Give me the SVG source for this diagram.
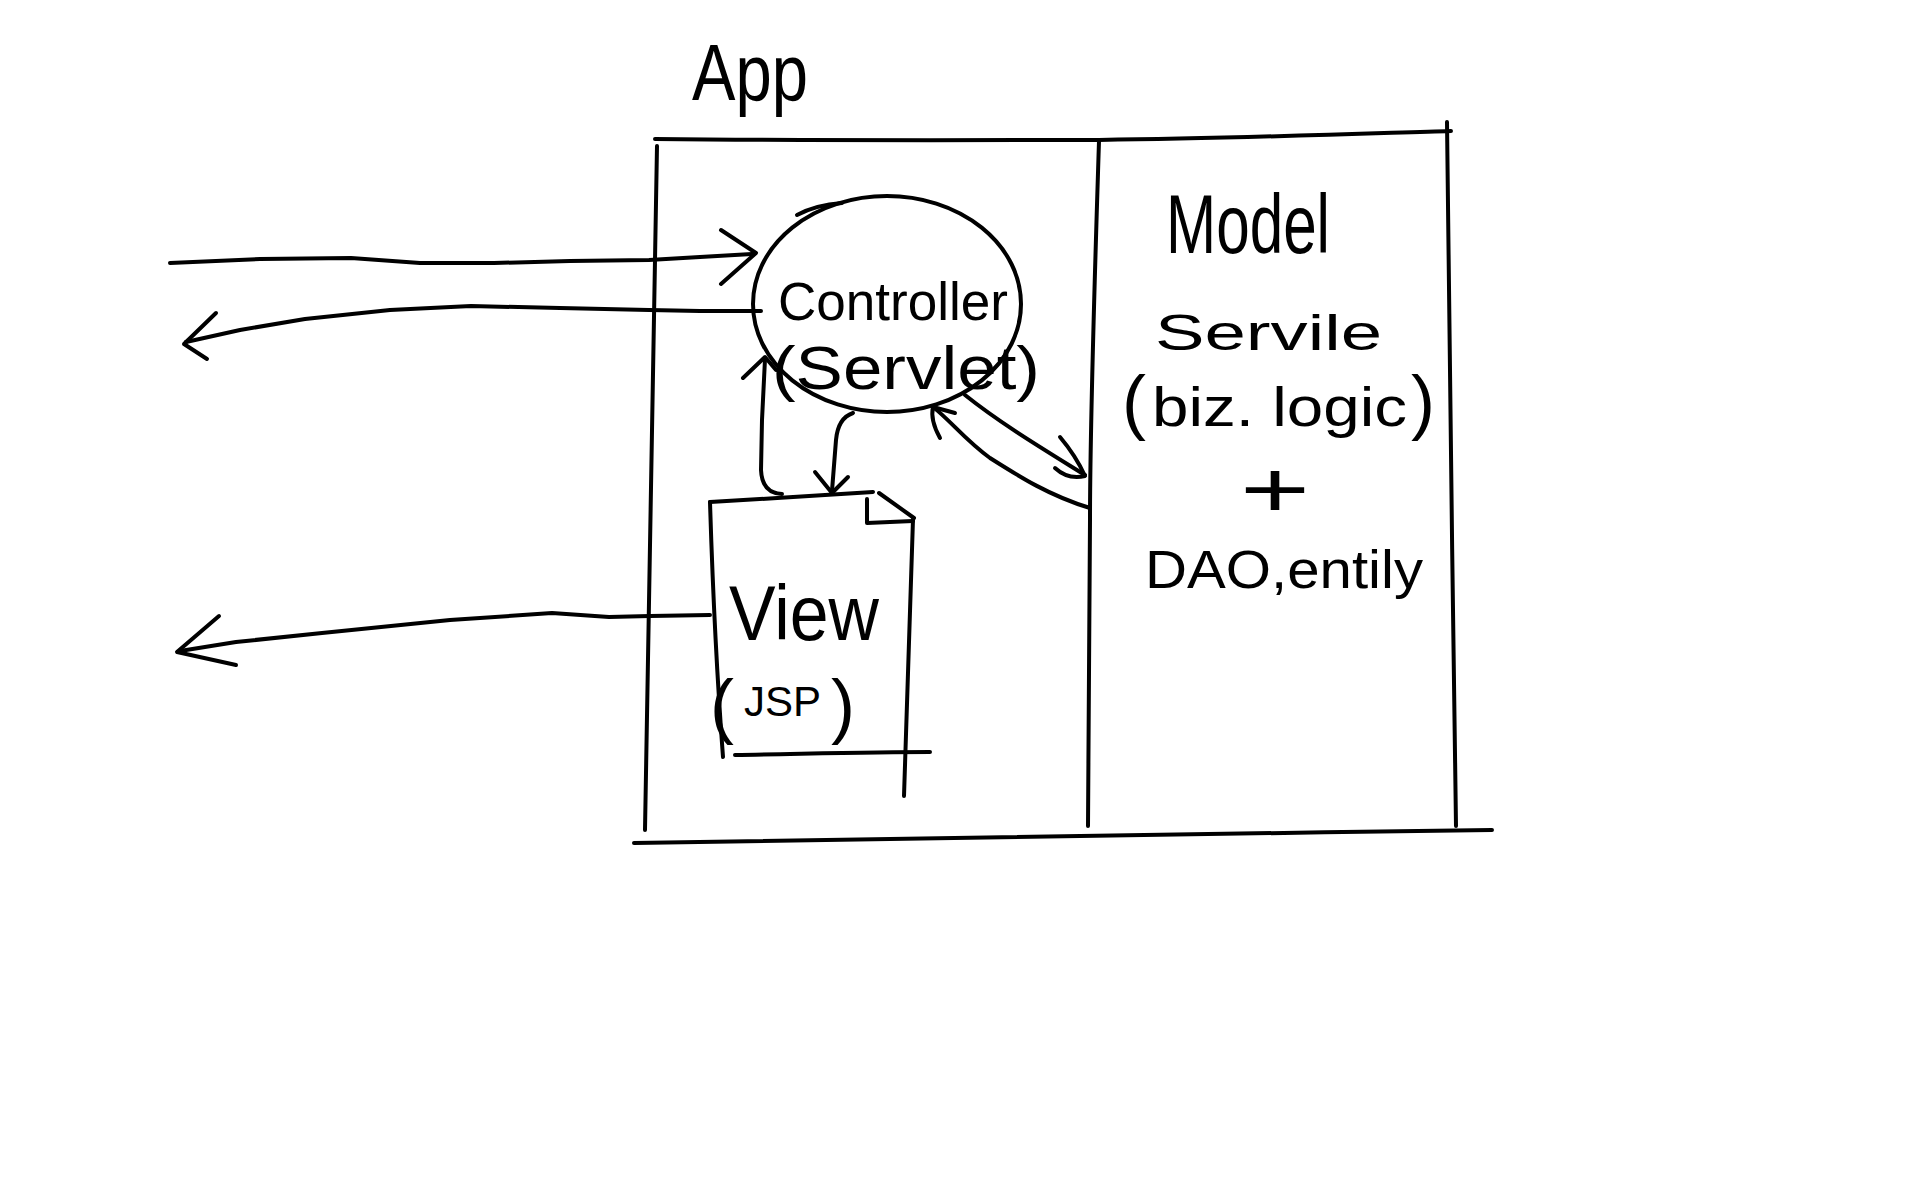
<svg xmlns="http://www.w3.org/2000/svg" width="1920" height="1200" viewBox="0 0 1920 1200">
<style>
.ln{fill:none;stroke:#000;stroke-width:4;stroke-linecap:round;stroke-linejoin:round}
.t{font-family:"Liberation Sans","DejaVu Sans",sans-serif;fill:#000}
</style>
<rect x="0" y="0" width="1920" height="1200" fill="#fff"/>

<g id="app">
  <text class="t" x="692" y="100" font-size="80" textLength="116" lengthAdjust="spacingAndGlyphs">App</text>
  <path class="ln" d="M655,139 C850,141 1000,140 1099,140 C1250,138 1380,133 1451,131"/>
  <path class="ln" d="M1447,122 C1450,300 1452,600 1456,826"/>
  <path class="ln" d="M657,146 C654,400 648,650 645,830"/>
  <path class="ln" d="M634,843 C900,838 1200,834 1492,830"/>
</g>

<g id="model">
  <path class="ln" d="M1099,141 C1094,300 1090,420 1090,520 C1089,650 1088,760 1088,826"/>
  <text class="t" x="1166" y="253" font-size="84" textLength="164" lengthAdjust="spacingAndGlyphs">Model</text>
  <text class="t" x="1155" y="350" font-size="50" textLength="227" lengthAdjust="spacingAndGlyphs">Servile</text>
  <text class="t" x="1122" y="426" font-size="56"><tspan font-size="72">(</tspan><tspan dx="6" textLength="255" lengthAdjust="spacingAndGlyphs">biz. logic</tspan><tspan font-size="72" dx="4">)</tspan></text>
  <text class="t" transform="translate(1275,517) scale(1.5,1)" x="0" y="0" font-size="80" text-anchor="middle">+</text>
  <text class="t" x="1145" y="588" font-size="54" textLength="278" lengthAdjust="spacingAndGlyphs">DAO,entily</text>
</g>

<g id="controller">
  <ellipse class="ln" cx="887" cy="304" rx="134" ry="108"/>
  <path class="ln" d="M797,215 C810,208 828,204 842,203"/>
  <text class="t" x="778" y="320" font-size="54" textLength="230" lengthAdjust="spacingAndGlyphs">Controller</text>
  <text class="t" x="772" y="389" font-size="62" textLength="268" lengthAdjust="spacingAndGlyphs">(Servlet)</text>
</g>

<g id="view">
  <path class="ln" d="M710,502 C760,499 830,495 873,492"/>
  <path class="ln" d="M879,493 L914,518"/>
  <path class="ln" d="M867,499 L867,523 L913,521"/>
  <path class="ln" d="M913,519 C910,620 906,720 904,796"/>
  <path class="ln" d="M710,502 C713,600 718,690 723,757"/>
  <path class="ln" d="M735,755 C800,754 870,752 930,752"/>
  <text class="t" x="729" y="640" font-size="78" textLength="150" lengthAdjust="spacingAndGlyphs">View</text>
  <text class="t" x="710" y="730" font-size="72">(<tspan font-size="42" dx="10" dy="-14">JSP</tspan><tspan dx="10" dy="14">)</tspan></text>
</g>

<g id="connectors">
  <polyline class="ln" points="170,263 260,259 351,258 420,263 494,263 570,261 649,260 700,257 752,254"/>
  <polyline class="ln" points="721,230 756,253 721,284"/>

  <polyline class="ln" points="761,311 700,311 649,310 560,308 471,306 390,310 305,319 240,330 186,342"/>
  <polyline class="ln" points="216,313 184,344 207,359"/>

  <polyline class="ln" points="710,615 650,616 609,617 552,613 450,620 322,633 236,642 180,651"/>
  <polyline class="ln" points="219,616 177,652 236,665"/>

  <path class="ln" d="M853,413 Q838,418 836,440 L832,491"/>
  <polyline class="ln" points="815,472 832,493 848,477"/>

  <path class="ln" d="M782,494 Q762,493 761,470 L762,420 L765,359"/>
  <polyline class="ln" points="743,378 765,357 776,370"/>

  <path class="ln" d="M965,395 C1000,423 1040,447 1085,475"/>
  <path class="ln" d="M1060,437 Q1076,456 1085,476 Q1068,480 1055,468"/>

  <path class="ln" d="M1090,508 C1050,496 1020,477 990,458 C965,440 950,420 933,407"/>
  <path class="ln" d="M940,438 Q930,420 933,407 L955,413"/>
</g>
</svg>
